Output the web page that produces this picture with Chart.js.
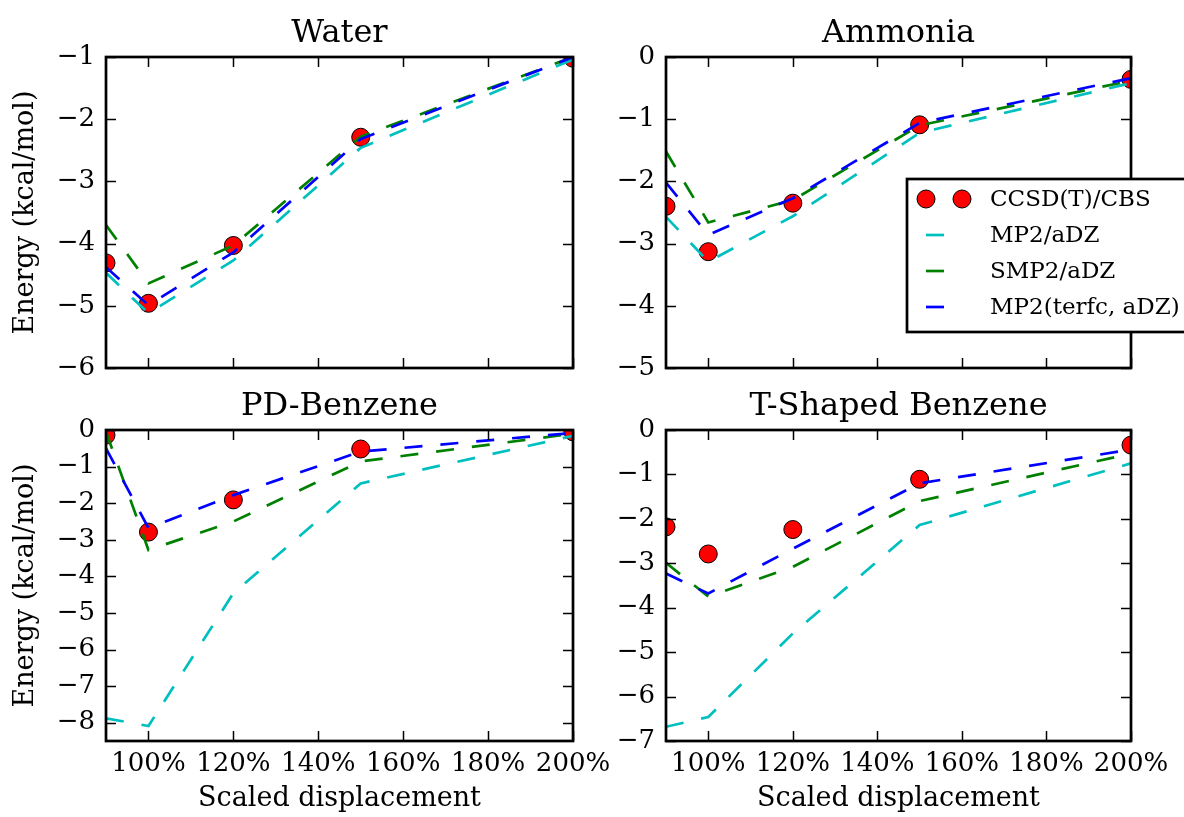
<!DOCTYPE html>
<html>
<head>
<meta charset="utf-8">
<title>Scaled displacement energies</title>
<script src="https://cdn.jsdelivr.net/npm/chart.js@4/dist/chart.umd.min.js"></script>
<style>
  html, body { margin: 0; padding: 0; background: #fff; }
  #wrap { position: relative; width: 1184px; height: 817px; overflow: hidden; }
  #wrap canvas { position: absolute; left: 0; top: 0; }
</style>
</head>
<body>
<div id="wrap">
  <canvas id="water" width="1184" height="817"></canvas>
  <canvas id="ammonia" width="1184" height="817"></canvas>
  <canvas id="pdBenzene" width="1184" height="817"></canvas>
  <canvas id="tBenzene" width="1184" height="817"></canvas>
</div>
<script>
// displacement (% of equilibrium) for every system
const displacement = [90, 100, 120, 150, 200];
const xTicks = [100, 120, 140, 160, 180, 200];

const seriesNames = ['CCSD(T)/CBS', 'MP2/aDZ', 'SMP2/aDZ', 'MP2(terfc, aDZ)'];

// Water
const waterCCSD  = [-4.31, -4.96, -4.03, -2.29, -1.02];
const waterMP2   = [-4.47, -5.12, -4.27, -2.46, -1.04];
const waterSMP2  = [-3.70, -4.64, -4.03, -2.28, -1.00];
const waterTerfc = [-4.38, -4.99, -4.14, -2.32, -1.00];
const waterTicks = [-6, -5, -4, -3, -2, -1];

// Ammonia
const ammoniaCCSD  = [-2.40, -3.13, -2.35, -1.09, -0.36];
const ammoniaMP2   = [-2.57, -3.29, -2.56, -1.22, -0.42];
const ammoniaSMP2  = [-1.52, -2.66, -2.30, -1.10, -0.38];
const ammoniaTerfc = [-2.02, -2.86, -2.27, -1.06, -0.34];
const ammoniaTicks = [-5, -4, -3, -2, -1, 0];

// parallel-displaced benzene dimer
const pdCCSD  = [-0.14, -2.79, -1.91, -0.52, -0.05];
const pdMP2   = [-7.88, -8.09, -4.46, -1.46, -0.16];
const pdSMP2  = [-0.05, -3.28, -2.50, -0.86, -0.10];
const pdTerfc = [-0.50, -2.68, -1.78, -0.59, -0.08];
const pdTicks = [-8, -7, -6, -5, -4, -3, -2, -1, 0];

// T-shaped benzene dimer
const tCCSD  = [-2.18, -2.79, -2.24, -1.11, -0.34];
const tMP2   = [-6.68, -6.46, -4.58, -2.14, -0.75];
const tSMP2  = [-2.99, -3.75, -3.08, -1.60, -0.53];
const tTerfc = [-3.23, -3.68, -2.67, -1.20, -0.44];
const tTicks = [-7, -6, -5, -4, -3, -2, -1, 0];

const FONT = '"DejaVu Serif", serif';
const PAGE_W = 1184, PAGE_H = 817;
const YW = 60, XH = 40; // fixed room for tick labels
const lineColors = ['#00bfbf', '#008000', '#0000ff'];

function pts(ys) {
    return displacement.map(function(x, i) { return { x: x, y: ys[i] }; });
}

function minus(v) {
    return v < 0 ? '\u2212' + Math.abs(v) : String(v);
}

// frame, inward ticks on all four sides, titles and the legend
function panelPlugin(p) {
    return {
        id: 'panel_' + p.id,
        afterDatasetsDraw(chart) {
            const ctx = chart.ctx, a = chart.chartArea;
            const xs = chart.scales.x, ys = chart.scales.y;
            ctx.save();
            ctx.strokeStyle = '#000';
            ctx.lineWidth = 1.5;
            ctx.beginPath();
            xTicks.forEach(function(v) {
                const px = Math.round(xs.getPixelForValue(v)) + 0.5;
                ctx.moveTo(px, a.bottom); ctx.lineTo(px, a.bottom - 10);
                ctx.moveTo(px, a.top);    ctx.lineTo(px, a.top + 10);
            });
            p.yTicks.forEach(function(v) {
                const py = Math.round(ys.getPixelForValue(v)) + 0.5;
                ctx.moveTo(a.left, py);  ctx.lineTo(a.left + 10, py);
                ctx.moveTo(a.right, py); ctx.lineTo(a.right - 10, py);
            });
            ctx.stroke();
            ctx.lineWidth = 2.7;
            ctx.strokeRect(a.left, a.top, a.right - a.left, a.bottom - a.top);

            ctx.fillStyle = '#000';
            ctx.textAlign = 'center';
            ctx.textBaseline = 'alphabetic';
            ctx.font = '32px ' + FONT;
            ctx.fillText(p.title, (a.left + a.right) / 2, a.top - 15);

            ctx.font = '27px ' + FONT;
            if (p.xLabel) {
                ctx.textBaseline = 'middle';
                ctx.fillText('Scaled displacement', (a.left + a.right) / 2, 799);
            }
            if (p.yLabel) {
                ctx.save();
                ctx.translate(26, (a.top + a.bottom) / 2);
                ctx.rotate(-Math.PI / 2);
                ctx.textBaseline = 'middle';
                ctx.fillText('Energy (kcal/mol)', 0, 0);
                ctx.restore();
            }
            ctx.restore();
        },
        afterDraw(chart) {
            if (!p.legend) return;
            const ctx = chart.ctx;
            ctx.save();
            ctx.fillStyle = '#fff';
            ctx.fillRect(907, 179, 290, 153);
            ctx.strokeStyle = '#000';
            ctx.lineWidth = 2.7;
            ctx.strokeRect(907, 179, 290, 153);

            const rows = [199, 235, 271, 307];
            ctx.font = '23px ' + FONT;
            ctx.textAlign = 'left';
            ctx.textBaseline = 'middle';
            rows.forEach(function(y, i) {
                if (i === 0) {
                    [926, 962].forEach(function(x) {
                        ctx.beginPath();
                        ctx.arc(x, y, 9, 0, Math.PI * 2);
                        ctx.fillStyle = '#ff0000';
                        ctx.fill();
                        ctx.lineWidth = 1;
                        ctx.strokeStyle = '#000';
                        ctx.stroke();
                    });
                } else {
                    ctx.beginPath();
                    ctx.moveTo(926, y); ctx.lineTo(944, y);
                    ctx.lineWidth = 2.7;
                    ctx.strokeStyle = lineColors[i - 1];
                    ctx.stroke();
                }
                ctx.fillStyle = '#000';
                ctx.fillText(seriesNames[i], 990, y + 1);
            });
            ctx.restore();
        }
    };
}

function makeChart(p) {
    const ctx = document.getElementById(p.id).getContext('2d');
    const series = [p.ccsd, p.mp2, p.smp2, p.terfc];
    const datasets = series.map(function(ys, i) {
        if (i === 0) {
            return {
                label: seriesNames[0], data: pts(ys), order: 4, clip: 0,
                showLine: false, pointRadius: 9, pointBackgroundColor: '#ff0000',
                pointBorderColor: '#000', pointBorderWidth: 1
            };
        }
        return {
            label: seriesNames[i], data: pts(ys), order: 4 - i, clip: 0,
            borderColor: lineColors[i - 1], borderWidth: 2.7, borderDash: [18, 18],
            pointRadius: 0, tension: 0, fill: false
        };
    });

    return new Chart(ctx, {
        type: 'line',
        data: { datasets: datasets },
        options: {
            responsive: false,
            animation: false,
            events: [],
            layout: {
                padding: {
                    left: p.left - YW,
                    right: PAGE_W - p.right,
                    top: p.top,
                    bottom: PAGE_H - p.bottom - XH
                }
            },
            plugins: { legend: { display: false }, title: { display: false }, tooltip: { enabled: false } },
            scales: {
                x: {
                    type: 'linear', min: 90, max: 200,
                    grid: { display: false, drawTicks: false }, border: { display: false },
                    afterBuildTicks: function(s) { s.ticks = xTicks.map(function(v) { return { value: v }; }); },
                    afterFit: function(s) { s.height = XH; s.paddingLeft = 0; s.paddingRight = 0; },
                    ticks: {
                        display: p.xLabel, autoSkip: false, maxRotation: 0, padding: 8,
                        color: '#000', font: { family: FONT, size: 26 },
                        callback: function(v) { return v + '%'; }
                    }
                },
                y: {
                    type: 'linear', min: p.yMin, max: p.yMax,
                    grid: { display: false, drawTicks: false }, border: { display: false },
                    afterBuildTicks: function(s) { s.ticks = p.yTicks.map(function(v) { return { value: v }; }); },
                    afterFit: function(s) { s.width = YW; s.paddingTop = 0; s.paddingBottom = 0; },
                    ticks: {
                        autoSkip: false, padding: 11,
                        color: '#000', font: { family: FONT, size: 26 },
                        callback: minus
                    }
                }
            }
        },
        plugins: [panelPlugin(p)]
    });
}

makeChart({ id: 'water', title: 'Water', left: 106, right: 573, top: 57, bottom: 368,
    yMin: -6, yMax: -1, yTicks: waterTicks, yLabel: true, xLabel: false,
    ccsd: waterCCSD, mp2: waterMP2, smp2: waterSMP2, terfc: waterTerfc });

makeChart({ id: 'ammonia', title: 'Ammonia', left: 666, right: 1131, top: 57, bottom: 368,
    yMin: -5, yMax: 0, yTicks: ammoniaTicks, yLabel: false, xLabel: false, legend: true,
    ccsd: ammoniaCCSD, mp2: ammoniaMP2, smp2: ammoniaSMP2, terfc: ammoniaTerfc });

makeChart({ id: 'pdBenzene', title: 'PD-Benzene', left: 106, right: 573, top: 430, bottom: 741,
    yMin: -8.5, yMax: 0, yTicks: pdTicks, yLabel: true, xLabel: true,
    ccsd: pdCCSD, mp2: pdMP2, smp2: pdSMP2, terfc: pdTerfc });

makeChart({ id: 'tBenzene', title: 'T-Shaped Benzene', left: 666, right: 1131, top: 430, bottom: 741,
    yMin: -7, yMax: 0, yTicks: tTicks, yLabel: false, xLabel: true,
    ccsd: tCCSD, mp2: tMP2, smp2: tSMP2, terfc: tTerfc });
</script>
</body>
</html>
